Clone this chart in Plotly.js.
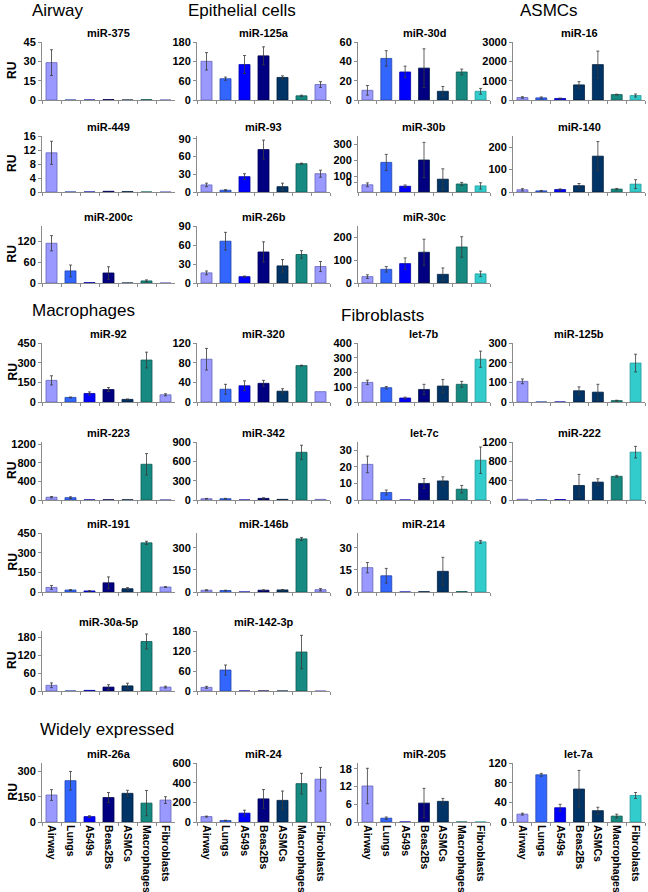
<!DOCTYPE html>
<html>
<head>
<meta charset="utf-8">
<script src="https://cdn.plot.ly/plotly-3.0.1.min.js"></script>
<style>
  html, body { margin: 0; padding: 0; background: #fff; }
  #plot { width: 648px; height: 892px; }
</style>
</head>
<body>
<div id="plot"></div>
<script>
// cell types, same order in every panel
let cells = ["Airway", "Lungs", "A549s", "Beas2Bs", "ASMCs", "Macrophages", "Fibroblasts"];

// Airway
let miR375 = [29, 0, 0, 0.3, 0, 0.3, 0];
let miR375Err = [10, 0, 0, 0, 0, 0, 0];
let miR449 = [11.2, 0, 0, 0.2, 0.1, 0, 0];
let miR449Err = [3.3, 0, 0, 0, 0, 0, 0];
let miR200c = [115, 35, 1, 29, 0, 6, 0];
let miR200cErr = [22, 17, 0, 18, 0, 3, 0];

// Epithelial cells
let miR125a = [120, 66, 110, 137, 70, 13, 48];
let miR125aErr = [27, 5, 28, 28, 5, 2, 9];
let miR93 = [12, 3, 26, 72, 9, 48, 31];
let miR93Err = [3, 1, 5, 16, 6, 1, 6];
let miR26b = [16, 66, 10, 49, 27, 45, 26];
let miR26bErr = [3, 14, 1, 16, 10, 6, 8];
let miR30d = [10, 43, 29, 33, 9, 29, 9];
let miR30dErr = [5, 8, 6, 20, 5, 3, 3];
let miR30b = [45, 185, 36, 200, 80, 50, 38];
let miR30bErr = [12, 50, 8, 110, 65, 10, 20];
let miR30c = [28, 60, 85, 135, 38, 158, 40];
let miR30cErr = [8, 12, 25, 57, 28, 45, 12];

// ASMCs
let miR16 = [130, 110, 80, 780, 1830, 280, 230];
let miR16Err = [40, 50, 20, 170, 700, 20, 80];
let miR140 = [10, 5, 11, 28, 160, 13, 35];
let miR140Err = [5, 2, 3, 10, 65, 3, 20];

// Macrophages
let miR92 = [165, 35, 65, 95, 20, 320, 55];
let miR92Err = [35, 3, 12, 15, 3, 60, 8];
let miR320 = [87, 26, 33, 38, 22, 74, 21];
let miR320Err = [22, 10, 10, 6, 5, 1, 0];
let miR223 = [60, 50, 3, 5, 5, 770, 5];
let miR223Err = [15, 20, 0, 0, 0, 230, 0];
let miR342 = [20, 20, 0, 25, 10, 740, 10];
let miR342Err = [5, 5, 0, 10, 0, 110, 0];
let miR191 = [35, 15, 8, 70, 25, 375, 38];
let miR191Err = [15, 3, 2, 45, 8, 12, 3];
let miR146b = [12, 10, 0, 12, 14, 360, 16];
let miR146bErr = [3, 2, 0, 3, 3, 10, 8];
let miR30a5p = [19, 0, 2, 13, 17, 165, 13];
let miR30a5pErr = [8, 0, 0, 8, 9, 25, 3];
let miR1423p = [11, 63, 0, 0, 0, 117, 0];
let miR1423pErr = [3, 15, 0, 0, 0, 50, 0];

// Fibroblasts
let let7b = [133, 97, 27, 85, 108, 120, 290];
let let7bErr = [15, 8, 6, 35, 45, 20, 55];
let miR125b = [105, 0, 0, 57, 50, 7, 198];
let miR125bErr = [12, 0, 0, 20, 40, 2, 45];
let let7c = [21.5, 4.5, 0, 10, 11.5, 6.5, 24];
let let7cErr = [5, 1.5, 0, 3, 2.5, 2.3, 8];
let miR222 = [15, 5, 8, 300, 370, 490, 990];
let miR222Err = [0, 0, 0, 230, 70, 20, 120];
let miR214 = [16.5, 11, 0, 0.2, 14, 0.3, 34];
let miR214Err = [3.5, 5, 0, 0, 9.5, 0, 1];

// Widely expressed
let miR26a = [160, 245, 32, 145, 170, 112, 130];
let miR26aErr = [32, 55, 5, 30, 18, 75, 20];
let miR24 = [55, 15, 90, 235, 220, 390, 435];
let miR24Err = [5, 3, 30, 95, 95, 105, 120];
let miR205 = [12.2, 1.3, 0, 6.4, 7, 0, 0];
let miR205Err = [6, 0.4, 0, 5, 1, 0, 0];
let let7a = [16, 96, 29, 67, 23, 12, 54];
let let7aErr = [2, 3, 7, 38, 7, 4, 6];

// bar colours: left two columns use a lilac last bar, right two a turquoise one
let colorsLeft = ["#9999FF", "#3366FF", "#0000FF", "#000080", "#003366", "#168A80", "#9999FF"];
let colorsMid = ["#9999FF", "#3366FF", "#0000FF", "#000080", "#003366", "#168A80", "#33CCCC"];
let colorsRight = ["#9999FF", "#3366FF", "#0000FF", "#003366", "#003366", "#168A80", "#33CCCC"];
let outlineLeft = ["#6666BB", "#2244AA", "#0000AA", "#000050", "#002040", "#0C5A54", "#6666BB"];
let outlineRight = ["#6666BB", "#2244AA", "#0000AA", "#002040", "#002040", "#0C5A54", "#229999"];

// plot area of each column / row in pixels
let colX = [[42, 175], [197, 330], [358, 490], [513, 645]];
let rowY = [[42, 100], [136, 192], [226, 283], [343, 402], [442, 500], [533, 592], [631, 691], [763, 822]];

let panels = [
    {title: "miR-375", v: miR375, e: miR375Err, col: 0, row: 0, ymax: 45, dtick: 15},
    {title: "miR-125a", v: miR125a, e: miR125aErr, col: 1, row: 0, ymax: 180, dtick: 60},
    {title: "miR-30d", v: miR30d, e: miR30dErr, col: 2, row: 0, ymax: 60, dtick: 20},
    {title: "miR-16", v: miR16, e: miR16Err, col: 3, row: 0, ymax: 3000, dtick: 1000},
    {title: "miR-449", v: miR449, e: miR449Err, col: 0, row: 1, ymax: 16, dtick: 4},
    {title: "miR-93", v: miR93, e: miR93Err, col: 1, row: 1, ymax: 95, dtick: 30},
    {title: "miR-30b", v: miR30b, e: miR30bErr, col: 2, row: 1, ymax: 350,
        tickvals: [60, 100, 200, 300], ticktext: ["0", "100", "200", "300"]},
    {title: "miR-140", v: miR140, e: miR140Err, col: 3, row: 1, ymax: 250, dtick: 100},
    {title: "miR-200c", v: miR200c, e: miR200cErr, col: 0, row: 2, ymax: 165, dtick: 60},
    {title: "miR-26b", v: miR26b, e: miR26bErr, col: 1, row: 2, ymax: 90, dtick: 30},
    {title: "miR-30c", v: miR30c, e: miR30cErr, col: 2, row: 2, ymax: 250, dtick: 100},
    {title: "miR-92", v: miR92, e: miR92Err, col: 0, row: 3, ymax: 450, dtick: 150},
    {title: "miR-320", v: miR320, e: miR320Err, col: 1, row: 3, ymax: 120, dtick: 40},
    {title: "let-7b", v: let7b, e: let7bErr, col: 2, row: 3, ymax: 400, dtick: 100},
    {title: "miR-125b", v: miR125b, e: miR125bErr, col: 3, row: 3, ymax: 300, dtick: 100},
    {title: "miR-223", v: miR223, e: miR223Err, col: 0, row: 4, ymax: 1250, dtick: 400},
    {title: "miR-342", v: miR342, e: miR342Err, col: 1, row: 4, ymax: 900, dtick: 300},
    {title: "let-7c", v: let7c, e: let7cErr, col: 2, row: 4, ymax: 35, dtick: 10},
    {title: "miR-222", v: miR222, e: miR222Err, col: 3, row: 4, ymax: 1200, dtick: 400},
    {title: "miR-191", v: miR191, e: miR191Err, col: 0, row: 5, ymax: 450, dtick: 150},
    {title: "miR-146b", v: miR146b, e: miR146bErr, col: 1, row: 5, ymax: 400, dtick: 150},
    {title: "miR-214", v: miR214, e: miR214Err, col: 2, row: 5, ymax: 40, dtick: 15},
    {title: "miR-30a-5p", v: miR30a5p, e: miR30a5pErr, col: 0, row: 6, ymax: 200, dtick: 60},
    {title: "miR-142-3p", v: miR1423p, e: miR1423pErr, col: 1, row: 6, ymax: 180, dtick: 60},
    {title: "miR-26a", v: miR26a, e: miR26aErr, col: 0, row: 7, ymax: 350, dtick: 150},
    {title: "miR-24", v: miR24, e: miR24Err, col: 1, row: 7, ymax: 600, dtick: 200},
    {title: "miR-205", v: miR205, e: miR205Err, col: 2, row: 7, ymax: 20, dtick: 6},
    {title: "let-7a", v: let7a, e: let7aErr, col: 3, row: 7, ymax: 120, dtick: 40}
];

let W = 648, H = 892;
let px = x => x / W;
let py = y => 1 - y / H;

let fam = "Liberation Sans, Arial, sans-serif";
let boldFont = {family: fam, size: 11, color: "#000", weight: "bold"};
let axisGrey = "#8C8C8C";

let data = [];
let layout = {
    width: W,
    height: H,
    margin: {l: 0, r: 0, t: 0, b: 0},
    paper_bgcolor: "#fff",
    plot_bgcolor: "#fff",
    showlegend: false,
    bargap: 0.42,
    annotations: []
};

panels.forEach((p, i) => {
    let n = i + 1;
    let xs = colX[p.col], ys = rowY[p.row];
    let palette = p.col < 2 ? colorsLeft : (p.col === 2 ? colorsMid : colorsRight);
    let outline = p.col < 2 ? outlineLeft : outlineRight;

    data.push({
        type: "bar",
        x: cells,
        y: p.v,
        xaxis: "x" + n,
        yaxis: "y" + n,
        marker: {color: palette, line: {color: outline, width: 0.8}},
        error_y: {
            type: "data",
            array: p.e.map(d => d > 0 ? d : NaN),
            visible: true,
            color: "#3A3A3A",
            thickness: 0.8,
            width: 1.5
        }
    });

    let bottom = p.row === 7;
    layout["xaxis" + n] = {
        domain: [px(xs[0]), px(xs[1])],
        anchor: "y" + n,
        type: "category",
        range: [-0.5, 6.5],
        showline: true,
        linecolor: axisGrey,
        linewidth: 1,
        ticks: "outside",
        tickson: "boundaries",
        ticklen: 3,
        tickcolor: axisGrey,
        showgrid: false,
        zeroline: false,
        showticklabels: bottom,
        tickangle: 90,
        ticklabelstandoff: 0,
        tickfont: {family: fam, size: 10.5, color: "#000", weight: "bold"},
        fixedrange: true
    };

    let ya = {
        domain: [py(ys[1]), py(ys[0])],
        anchor: "x" + n,
        range: [0, p.ymax],
        showline: true,
        linecolor: axisGrey,
        linewidth: 1,
        ticks: "outside",
        ticklen: 3,
        tickcolor: axisGrey,
        showgrid: false,
        zeroline: false,
        tickfont: boldFont,
        fixedrange: true
    };
    if (p.tickvals) {
        ya.tickmode = "array";
        ya.tickvals = p.tickvals;
        ya.ticktext = p.ticktext;
    } else {
        ya.tickmode = "linear";
        ya.tick0 = 0;
        ya.dtick = p.dtick;
    }
    layout["yaxis" + n] = ya;

    // panel title
    layout.annotations.push({
        text: p.title,
        xref: "paper", yref: "paper",
        x: px((xs[0] + xs[1]) / 2), y: py(ys[0] - 9),
        xanchor: "center", yanchor: "middle",
        showarrow: false,
        font: boldFont
    });
});

// "RU" labels on the left column
rowY.forEach(r => {
    layout.annotations.push({
        text: "RU",
        xref: "paper", yref: "paper",
        x: px(12), y: py((r[0] + r[1]) / 2),
        xanchor: "center", yanchor: "middle",
        textangle: -90,
        showarrow: false,
        font: {family: fam, size: 12, color: "#000", weight: "bold"}
    });
});

// section headings
let sections = [
    ["Airway", 30, 10],
    ["Epithelial cells", 186, 10],
    ["ASMCs", 518, 10],
    ["Macrophages", 30, 310],
    ["Fibroblasts", 339, 315],
    ["Widely expressed", 38, 729]
];
sections.forEach(s => {
    layout.annotations.push({
        text: s[0],
        xref: "paper", yref: "paper",
        x: px(s[1]), y: py(s[2]),
        xanchor: "left", yanchor: "middle",
        showarrow: false,
        font: {family: fam, size: 17, color: "#000"}
    });
});

Plotly.newPlot("plot", data, layout, {displayModeBar: false, staticPlot: true});
</script>
</body>
</html>
